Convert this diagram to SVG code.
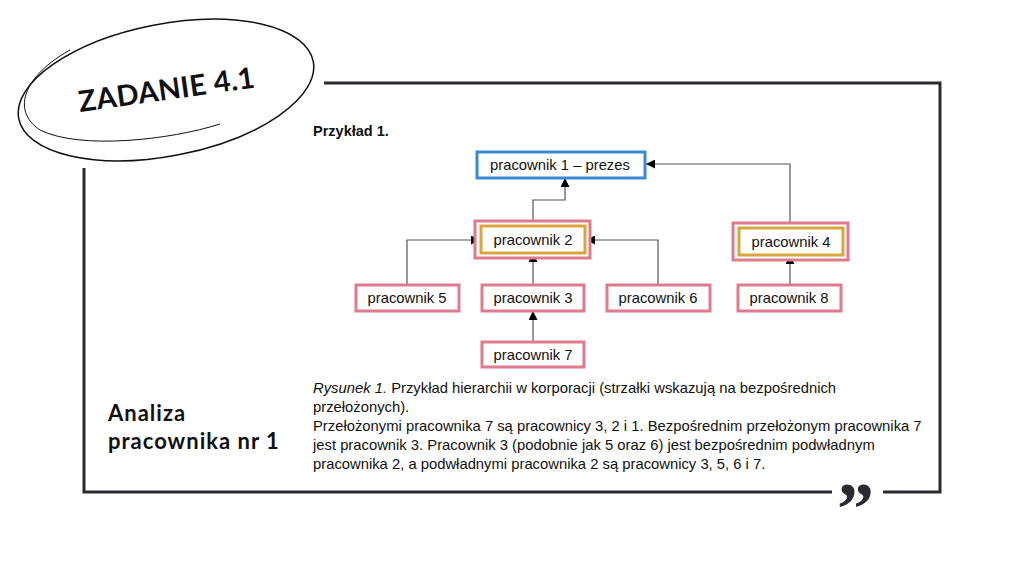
<svg xmlns="http://www.w3.org/2000/svg" width="1024" height="576" viewBox="0 0 1024 576">
<defs>
<marker id="ah" viewBox="0 0 10 10" refX="10" refY="5" markerWidth="9" markerHeight="9" markerUnits="userSpaceOnUse" orient="auto">
<path d="M0,0 L10,5 L0,10 z" fill="#000"/>
</marker>
<style>
.frame{fill:none;stroke:#2b2a33;stroke-width:3}
.hand{font-family:"Lato","Liberation Sans",sans-serif;fill:#111;font-weight:bold}
.lbl{font-family:"Liberation Sans",Arial,sans-serif;font-size:14.8px;fill:#111;text-anchor:middle}
.cap{font-family:"Liberation Sans",Arial,sans-serif;font-size:14.8px;fill:#111}
.pink{fill:#fff;stroke:#e07a8e;stroke-width:3}
.gold{fill:#fff;stroke:#d9a53c;stroke-width:3}
.blue{fill:#fff;stroke:#3a8ad8;stroke-width:3}
.con{fill:none;stroke:#555;stroke-width:1.2;marker-end:url(#ah)}
</style>
</defs>
<rect width="1024" height="576" fill="#fff"/>
<!-- frame -->
<path class="frame" d="M324,83 H940 V492 H883 M832,492 H84 V168"/>
<text x="837" y="534" font-family="Liberation Serif,serif" font-weight="bold" font-size="74" fill="#2b2a33">”</text>
<!-- ellipse -->
<g fill="none" stroke="#111">
<ellipse cx="166" cy="90" rx="150" ry="66" transform="rotate(-11 166 90)" stroke-width="1.5"/>
<path d="M220,124 C170,140 80,150 40,130 C10,110 25,75 70,50" stroke-width="1"/>
</g>
<text class="hand" x="80" y="112" font-size="29" letter-spacing="0.3" transform="rotate(-8 80 112)">ZADANIE 4.1</text>
<text class="hand" x="108" y="421" font-size="22" letter-spacing="1">Analiza</text>
<text class="hand" x="108" y="449" font-size="22" letter-spacing="1">pracownika nr 1</text>
<text x="313" y="136" font-family="Liberation Sans,Arial,sans-serif" font-weight="bold" font-size="14.5" fill="#111">Przykład 1.</text>
<!-- connectors -->
<g id="connectors">
<path class="con" d="M533,221 V200 H565 V178"/>
<path class="con" d="M790,223 V164 H646"/>
<path class="con" d="M407,284 V240 H480"/>
<path class="con" d="M658,284 V240 H586"/>
<path class="con" d="M533,284 V253"/>
<path class="con" d="M533,342 V311"/>
<path class="con" d="M790,284 V255"/>
</g>
<g id="n1"><rect class="blue" x="477" y="152" width="168" height="26"/><text class="lbl" x="560" y="170">pracownik 1 – prezes</text></g>
<g id="n2"><rect class="pink" x="475" y="221" width="115" height="37"/><rect class="gold" x="481" y="226" width="104" height="27"/><text class="lbl" x="533" y="245">pracownik 2</text></g>
<g id="n4"><rect class="pink" x="733" y="223" width="115" height="37"/><rect class="gold" x="739" y="228" width="104" height="27"/><text class="lbl" x="791" y="247">pracownik 4</text></g>
<g id="n5"><rect class="pink" x="356" y="285" width="103" height="26"/><text class="lbl" x="407" y="303">pracownik 5</text></g>
<g id="n3"><rect class="pink" x="482" y="285" width="102" height="26"/><text class="lbl" x="533" y="303">pracownik 3</text></g>
<g id="n6"><rect class="pink" x="607" y="285" width="103" height="26"/><text class="lbl" x="658" y="303">pracownik 6</text></g>
<g id="n8"><rect class="pink" x="738" y="285" width="103" height="26"/><text class="lbl" x="789" y="303">pracownik 8</text></g>
<g id="n7"><rect class="pink" x="482" y="342" width="102" height="25"/><text class="lbl" x="533" y="360">pracownik 7</text></g>
<!-- caption -->
<text class="cap" x="313" y="393"><tspan font-style="italic">Rysunek 1.</tspan> Przykład hierarchii w korporacji (strzałki wskazują na bezpośrednich</text>
<text class="cap" x="313" y="412">przełożonych).</text>
<text class="cap" x="313" y="431">Przełożonymi pracownika 7 są pracownicy 3, 2 i 1. Bezpośrednim przełożonym pracownika 7</text>
<text class="cap" x="313" y="450">jest pracownik 3. Pracownik 3 (podobnie jak 5 oraz 6) jest bezpośrednim podwładnym</text>
<text class="cap" x="313" y="469">pracownika 2, a podwładnymi pracownika 2 są pracownicy 3, 5, 6 i 7.</text>
</svg>
